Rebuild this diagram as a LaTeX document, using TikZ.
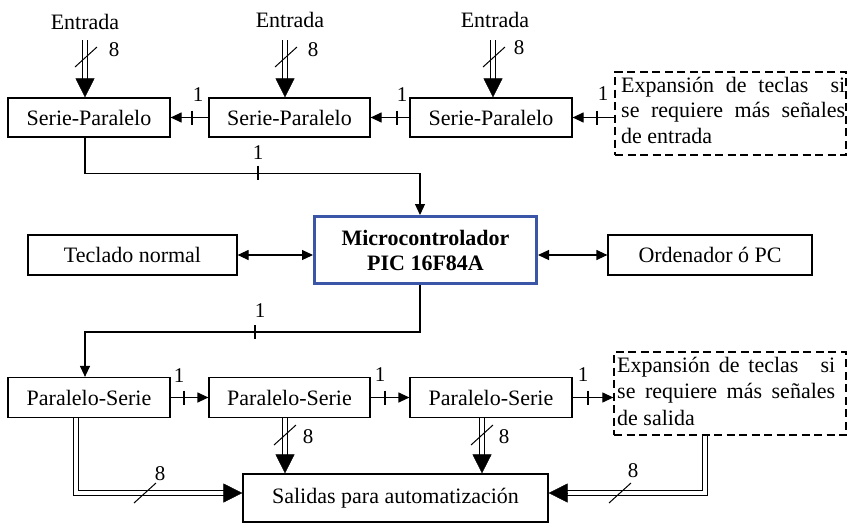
\documentclass[tikz,border=0pt]{standalone}
\usepackage{fontspec}
\setmainfont{Liberation Serif}
\usetikzlibrary{arrows.meta,calc}
\definecolor{picblue}{RGB}{59,86,166}
\begin{document}
\begin{tikzpicture}[x=1pt,y=-1pt,
  box/.style={draw, line width=1.2pt, inner sep=0pt, font=\fontsize{22}{25}\selectfont},
  dbox/.style={draw, line width=1.3pt, dash pattern=on 8pt off 4.5pt, inner sep=0pt},
  lab/.style={font=\fontsize{22}{25}\selectfont, inner sep=0pt},
  num/.style={font=\fontsize{21}{22}\selectfont, inner sep=0pt},
  sarrow/.style={line width=1.2pt, -{Triangle[length=11pt,width=10pt]}},
  darrow/.style={line width=1.2pt, {Triangle[length=11pt,width=10pt]}-{Triangle[length=11pt,width=10pt]}},
  bus/.style={double, double distance=3.2pt, line width=1pt, shorten >=17pt},
  bushead/.style={-{Triangle[length=19pt,width=19pt]}},
  tickm/.style={line width=2.8pt},
  tickn/.style={line width=1.8pt},
  slash/.style={line width=1pt},
]
\useasboundingbox (0,0) rectangle (849,525);

% ---- top row
\node[box, minimum width=162pt, minimum height=39pt] (sp1) at (89,117.5) {Serie-Paralelo};
\node[box, minimum width=161pt, minimum height=39pt] (sp2) at (289.5,117.5) {Serie-Paralelo};
\node[box, minimum width=162pt, minimum height=39pt] (sp3) at (491,117.5) {Serie-Paralelo};
\node[dbox, minimum width=231pt, minimum height=83pt] (d1) at (730.5,113.5) {};
\node[lab, anchor=base west] (d1a) at (621,92) {\makebox[224pt][s]{Expansión de teclas\quad si}};
\node[lab, anchor=base west] (d1b) at (621,117.5) {\makebox[224pt][s]{se requiere más señales}};
\node[lab, anchor=base west] (d1c) at (621,143) {de entrada};

\node[lab] (e1) at (85,22) {Entrada};
\node[lab] (e2) at (290,20) {Entrada};
\node[lab] (e3) at (495,20) {Entrada};

\coordinate (b1s) at (85,40);  \coordinate (b1e) at (b1s |- sp1.north);
\coordinate (b2s) at (285,40); \coordinate (b2e) at (b2s |- sp2.north);
\coordinate (b3s) at (493,40); \coordinate (b3e) at (b3s |- sp3.north);
\foreach \s/\e in {b1s/b1e,b2s/b2e,b3s/b3e}{
  \draw[bus] (\s) -- (\e);
  \draw[bushead] ($(\e)+(0,-2)$) -- (\e);
}
\foreach \p in {(86,57),(286,57),(494,57)}{
  \draw[slash] \p ++(-11,10) -- ++(22,-20);
}
\node[num] (n1) at (114,50) {8};
\node[num] (n2) at (313,50) {8};
\node[num] (n3) at (519,48) {8};

\draw[sarrow] (sp2.west) -- (sp1.east);
\draw[sarrow] (sp3.west) -- (sp2.east);
\draw[sarrow] (d1.west |- sp3.east) -- (sp3.east);
\foreach \x in {192,397,597}{ \draw[tickm] (\x,110.5) -- (\x,124.5); }
\node[num] (o1) at (198,95) {1};
\node[num] (o2) at (402,95) {1};
\node[num] (o3) at (603,94) {1};

% ---- middle row
\node[draw=picblue, line width=3pt, minimum width=222pt, minimum height=67pt, align=center,
      inner sep=0pt, font=\fontsize{22}{25}\selectfont\bfseries] (mc) at (425.5,250) {Microcontrolador\\PIC 16F84A};
\node[box, minimum width=209pt, minimum height=40pt] (tec) at (132.5,255) {Teclado normal};
\node[box, minimum width=204pt, minimum height=40pt] (ord) at (710,255) {Ordenador ó PC};

\draw[sarrow] ([xshift=-4pt]sp1.south) -- ++(0,35.5) -| ([xshift=-5.5pt]mc.north);
\draw[tickn] (258,165.5) -- (258,179.5);
\node[num] (o4) at (258,153) {1};

\draw[darrow] (tec.east) -- (tec.east -| mc.west);
\draw[darrow] (ord.west) -- (ord.west -| mc.east);

% ---- bottom row
\node[box, minimum width=162pt, minimum height=40pt] (ps1) at (89,397.5) {Paralelo-Serie};
\node[box, minimum width=161pt, minimum height=40pt] (ps2) at (289.5,397.5) {Paralelo-Serie};
\node[box, minimum width=162pt, minimum height=40pt] (ps3) at (491,397.5) {Paralelo-Serie};
\node[dbox, minimum width=232pt, minimum height=83pt] (d2) at (730,393.5) {};
\node[lab, anchor=base west] (d2a) at (617,372) {\makebox[218pt][s]{Expansión de teclas\quad si}};
\node[lab, anchor=base west] (d2b) at (617,398) {\makebox[218pt][s]{se requiere más señales}};
\node[lab, anchor=base west] (d2c) at (617,425) {de salida};

\node[box, minimum width=305pt, minimum height=48pt] (sal) at (395.5,498) {Salidas para automatización};

\draw[sarrow] ([xshift=-5.5pt]mc.south) -- ++(0,47) -| ([xshift=-4pt]ps1.north);
\draw[tickn] (255,325) -- (255,339);
\node[num] (o5) at (260,311) {1};

\draw[sarrow] (ps1.east) -- (ps2.west);
\draw[sarrow] (ps2.east) -- (ps3.west);
\draw[sarrow] (ps3.east) -- (ps3.east -| d2.west);
\foreach \x in {184,385,588}{ \draw[tickm] (\x,390.5) -- (\x,404.5); }
\node[num] (o6) at (179,376) {1};
\node[num] (o7) at (380,375) {1};
\node[num] (o8) at (583,375) {1};

\coordinate (c1s) at ([xshift=-13pt]ps1.south);
\coordinate (c1e) at ([yshift=5pt]sal.west);
\draw[bus] (c1s) |- (c1e);
\draw[bushead] ($(c1e)+(-2,0)$) -- (c1e);

\coordinate (c2s) at ([xshift=-4.5pt]ps2.south);
\coordinate (c2e) at (c2s |- sal.north);
\draw[bus] (c2s) -- (c2e);
\draw[bushead] ($(c2e)+(0,-2)$) -- (c2e);

\coordinate (c3s) at ([xshift=-9pt]ps3.south);
\coordinate (c3e) at (c3s |- sal.north);
\draw[bus] (c3s) -- (c3e);
\draw[bushead] ($(c3e)+(0,-2)$) -- (c3e);

\coordinate (c4s) at ([xshift=-25pt]d2.south);
\coordinate (c4e) at ([yshift=5pt]sal.east);
\draw[bus] (c4s) |- (c4e);
\draw[bushead] ($(c4e)+(2,0)$) -- (c4e);

\foreach \p in {(145,493),(285,435),(482,435),(620,493)}{
  \draw[slash] \p ++(-11,10) -- ++(22,-20);
}
\node[num] (n4) at (160,474) {8};
\node[num] (n5) at (308,437) {8};
\node[num] (n6) at (504,437) {8};
\node[num] (n7) at (633,471) {8};
\end{tikzpicture}
\end{document}
